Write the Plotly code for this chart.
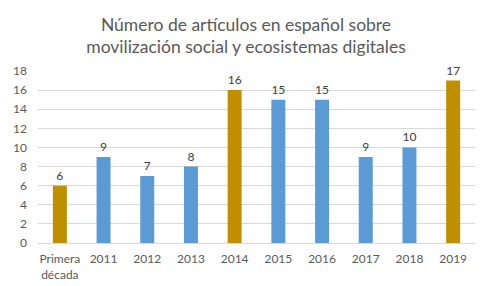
import plotly.graph_objects as go

categories = ["Primera<br>década", "2011", "2012", "2013", "2014", "2015", "2016", "2017", "2018", "2019"]
values = [6, 9, 7, 8, 16, 15, 15, 9, 10, 17]
highlight = [True, False, False, False, True, False, False, False, False, True]
tick_vals = [0, 2, 4, 6, 8, 10, 12, 14, 16, 18]

GOLD = "#BF8F00"
BLUE = "#5B9BD5"
colors = [GOLD if h else BLUE for h in highlight]

fig = go.Figure(go.Bar(
    x=categories, y=values, marker_color=colors, marker_line_width=0,
    text=[str(v) for v in values], textposition="outside",
    textfont=dict(size=12, color="#404040"), cliponaxis=False,
))

fig.update_layout(
    width=492, height=286,
    margin=dict(l=38, r=17, t=71, b=43, autoexpand=False),
    paper_bgcolor="white", plot_bgcolor="white",
    font=dict(family="Lato, Open Sans, sans-serif", color="#595959"),
    title=dict(text="Número de artículos en español sobre<br>movilización social y ecosistemas digitales",
               x=0.5, xanchor="center", y=0.893, yanchor="top",
               font=dict(size=17.5, color="#595959")),
    bargap=0.68,
    showlegend=False,
)
fig.update_xaxes(showline=True, linecolor="#d9d9d9", linewidth=1, ticks="",
                 tickfont=dict(size=12, color="#595959"), ticklabelstandoff=5)
fig.update_yaxes(range=[0, 18], tickvals=tick_vals, showgrid=True, gridcolor="#d9d9d9",
                 zeroline=False, tickfont=dict(size=12, color="#595959"), ticks="",
                 ticklabelstandoff=10)

fig.write_html("out.html", config={"displayModeBar": False},
               post_script="document.body.style.margin='0';")
